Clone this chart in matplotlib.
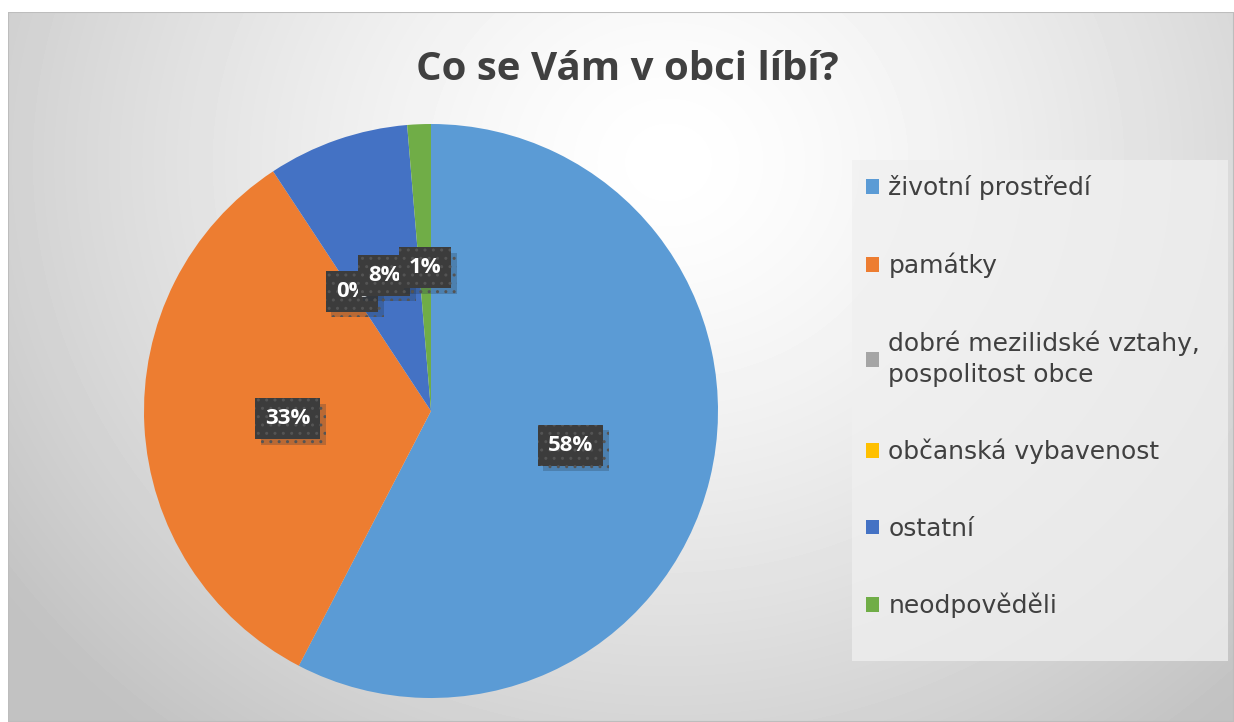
import matplotlib.pyplot as plt
import matplotlib.patheffects as pe
import numpy as np
from matplotlib.patches import Rectangle

# survey answers (counts), drawn clockwise from 12 o'clock
categories = [
    "životní prostředí",
    "památky",
    "dobré mezilidské vztahy,\npospolitost obce",
    "občanská vybavenost",
    "ostatní",
    "neodpověděli",
]
counts = [87, 50, 0, 0, 12, 2]
colors = ["#5B9BD5", "#ED7D31", "#A5A5A5", "#FFC000", "#4472C4", "#70AD47"]
title = "Co se Vám v obci líbí?"

W, H = 1234, 722
fig = plt.figure(figsize=(W / 100, H / 100), dpi=100)

# chart area background: soft radial gradient, white near the top centre
bg = fig.add_axes([8 / W, 0, 1 - 8 / W, 1 - 12 / H])
bg.set_axis_off()
yy, xx = np.mgrid[0:710, 0:1226]
dist = np.hypot((xx - 660) / 1.0, (yy - 150) / 0.9)
shade = np.clip(dist / 820, 0, 1) ** 1.4
img = 1.0 - 0.24 * shade
bg.imshow(img, cmap="gray", vmin=0, vmax=1, aspect="auto", extent=(0, 1, 0, 1), origin="upper")
bg.add_patch(Rectangle((0, 0), 1, 1, transform=bg.transAxes, fill=False, edgecolor="#BDBDBD", linewidth=1.5))
bg.set_xlim(0, 1)
bg.set_ylim(0, 1)

fig.text(627 / W, 1 - 70 / H, title, ha="center", va="center", fontsize=29, fontweight="bold",
         color="#404040", family="Open Sans")

# pie
cx, cy, r = 431, 411, 287
ax = fig.add_axes([(cx - r) / W, (H - cy - r) / H, 2 * r / W, 2 * r / H])
wedges, _, autotexts = ax.pie(
    counts,
    colors=colors,
    startangle=90,
    counterclock=False,
    autopct="%1.0f%%",
    pctdistance=0.5,
    wedgeprops=dict(linewidth=0),
    textprops=dict(color="white", fontsize=16, fontweight="bold", family="Open Sans"),
)
ax.set_xlim(-1, 1)
ax.set_ylim(-1, 1)
ax.set_aspect("equal")

for t in autotexts:
    t.set_bbox(dict(boxstyle="square,pad=0.45", facecolor="#3C3C3C", edgecolor="#545454",
                    hatch="..", linewidth=0))
    t.get_bbox_patch().set_path_effects(
        [pe.SimplePatchShadow(offset=(4, -4), shadow_rgbFace="#203040", alpha=0.25), pe.Normal()])
# the empty "občanská vybavenost" label sits under the other 0% label
autotexts[3].set_visible(False)

# legend panel
fig.patches.append(Rectangle((852 / W, 1 - 661 / H), 376 / W, 501 / H, transform=fig.transFigure,
                             facecolor="#F0F0F0", alpha=0.75, edgecolor="none", zorder=1))

handles = [Rectangle((0, 0), 1, 1, facecolor=c, edgecolor="none") for c in colors]
leg = fig.legend(
    handles,
    categories,
    loc="upper left",
    bbox_to_anchor=(850 / W, 1 - 160 / H),
    frameon=False,
    fontsize=18,
    labelcolor="#404040",
    handlelength=0.52,
    handleheight=0.52,
    handletextpad=0.4,
    labelspacing=2.09,
    borderpad=0.62,
    borderaxespad=0,
)
leg.get_texts()[2].set_linespacing(1.35)

fig.savefig("out.png", dpi=100)
